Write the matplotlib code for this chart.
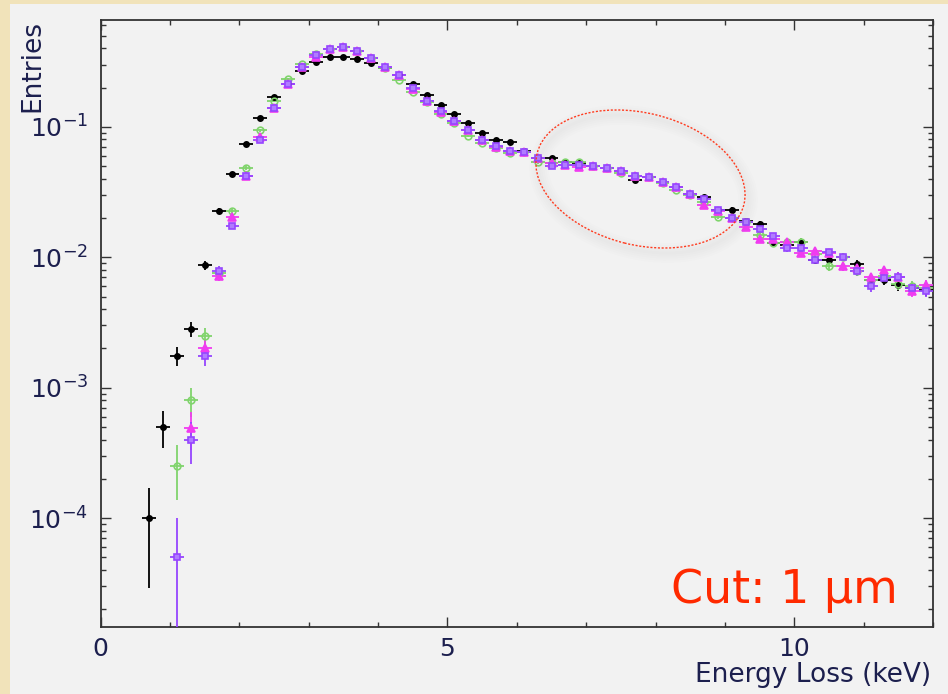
import numpy as np
import matplotlib.pyplot as plt
from matplotlib.patches import Ellipse, Rectangle
from matplotlib.ticker import LogLocator, MultipleLocator, NullFormatter

# centri dei bin (keV), bin da 0.2 keV
centri = [0.7, 0.9, 1.1, 1.3, 1.5, 1.7, 1.9, 2.1, 2.3, 2.5, 2.7, 2.9, 3.1, 3.3, 3.5,
          3.7, 3.9, 4.1, 4.3, 4.5, 4.7, 4.9, 5.1, 5.3, 5.5, 5.7, 5.9, 6.1, 6.3, 6.5,
          6.7, 6.9, 7.1, 7.3, 7.5, 7.7, 7.9, 8.1, 8.3, 8.5, 8.7, 8.9, 9.1, 9.3, 9.5,
          9.7, 9.9, 10.1, 10.3, 10.5, 10.7, 10.9, 11.1, 11.3, 11.5, 11.7, 11.9]

nan = np.nan

nero = [1.0e-4, 5.0e-4, 1.75e-3, 2.8e-3, 8.7e-3, 0.0228, 0.0438, 0.0741, 0.117, 0.168,
        0.214, 0.266, 0.317, 0.342, 0.342, 0.334, 0.308, 0.285, 0.25, 0.214, 0.176,
        0.148, 0.126, 0.107, 0.0905, 0.0795, 0.0759, 0.0655, 0.0575, 0.0575, 0.054,
        0.0526, 0.0497, 0.0482, 0.046, 0.039, 0.0411, 0.0375, 0.0343, 0.0304, 0.0288,
        0.0231, 0.0231, 0.019, 0.018, 0.0129, 0.0125, 0.0132, 0.0095, 0.0096, 0.0101,
        0.0089, 0.0067, 0.0067, 0.0061, 0.0058, 0.0056]

verde = [nan, nan, 2.5e-4, 8.0e-4, 2.5e-3, 7.6e-3, 0.0228, 0.0485, 0.094, 0.158,
         0.233, 0.305, 0.365, 0.394, 0.409, 0.385, 0.336, 0.283, 0.23, 0.184, 0.155,
         0.125, 0.107, 0.085, 0.075, 0.0686, 0.0635, 0.064, 0.054, 0.0526, 0.054,
         0.054, 0.0497, 0.0482, 0.0442, 0.042, 0.041, 0.037, 0.0329, 0.030, 0.0267,
         0.0205, 0.0199, 0.0185, 0.0148, 0.0128, 0.0132, 0.0132, 0.0105, 0.0085, 0.0101,
         0.0078, 0.0067, 0.0072, 0.0062, 0.006, 0.0058]

magenta = [nan, nan, nan, 4.9e-4, 2.0e-3, 7.2e-3, 0.0205, 0.042, 0.0843, 0.139,
           0.214, 0.29, 0.345, 0.394, 0.409, 0.385, 0.336, 0.29, 0.25, 0.194, 0.159,
           0.131, 0.11, 0.094, 0.079, 0.0705, 0.0658, 0.0646, 0.0575, 0.0526, 0.0513,
           0.049, 0.0497, 0.0482, 0.0459, 0.042, 0.0411, 0.038, 0.0343, 0.0304, 0.0252,
           0.0228, 0.0199, 0.0172, 0.0137, 0.0137, 0.013, 0.0107, 0.0112, 0.0107, 0.0085,
           0.0082, 0.0070, 0.0080, 0.0071, 0.0055, 0.0061]

viola = [nan, nan, 5.0e-5, 4.0e-4, 1.75e-3, 7.9e-3, 0.0174, 0.042, 0.0795, 0.139,
         0.214, 0.29, 0.355, 0.394, 0.409, 0.385, 0.336, 0.29, 0.25, 0.2, 0.159,
         0.132, 0.11, 0.095, 0.0795, 0.0715, 0.0658, 0.0646, 0.0575, 0.0502, 0.0513,
         0.0513, 0.0497, 0.0482, 0.0459, 0.042, 0.0411, 0.038, 0.0343, 0.0304, 0.0279,
         0.0231, 0.0199, 0.0185, 0.0164, 0.0146, 0.0117, 0.0117, 0.0095, 0.0109, 0.0101,
         0.0078, 0.0060, 0.0069, 0.0071, 0.0058, 0.0055]

n_entries = 20000  # eventi per istogramma normalizzato
meta_bin = 0.1

blu = '#1c1f4e'
plt.rcParams['font.family'] = ['DejaVu Sans']

fig = plt.figure(figsize=(9.48, 6.94), dpi=100)
fig.patch.set_facecolor('#f1e3ba')
# riquadro grigio del canvas, sotto agli assi
fig.patches.append(Rectangle((10 / 948, 0), 938 / 948, 690 / 694, transform=fig.transFigure,
                             facecolor='#f2f2f2', edgecolor='none', zorder=-5))

ax = fig.add_axes([100.7 / 948, 67 / 694, 832.3 / 948, 607 / 694])
ax.set_facecolor('#f2f2f2')


def disegna(valori, colore, marker, ms, riempimento):
    x = np.array(centri)
    y = np.array(valori)
    ok = ~np.isnan(y)
    x = x[ok]
    y = y[ok]
    err = np.sqrt(y / n_entries)
    basso = np.minimum(err, y * 0.9999)
    ax.errorbar(x, y, xerr=meta_bin, yerr=[basso, err], fmt='none',
                ecolor=colore, elinewidth=1.3, capsize=0, zorder=3)
    ax.plot(x, y, linestyle='none', marker=marker, markersize=ms,
            color=colore, markerfacecolor=riempimento,
            markeredgewidth=1.2, zorder=4)


disegna(nero, 'black', 'o', 3.8, 'black')
disegna(verde, '#80d46c', 'o', 4.8, 'none')
disegna(magenta, '#f03cf0', '^', 5.5, '#f03cf0')
disegna(viola, '#9646ff', 's', 4.6, '#b07cff')

ax.set_xlim(0, 12)
ax.set_yscale('log')
ax.set_ylim(1.46e-5, 0.66)

ax.xaxis.set_major_locator(MultipleLocator(5))
ax.xaxis.set_minor_locator(MultipleLocator(1))
ax.yaxis.set_major_locator(LogLocator(base=10))
ax.yaxis.set_minor_locator(LogLocator(base=10, subs=np.arange(2, 10)))
ax.yaxis.set_minor_formatter(NullFormatter())

ax.tick_params(which='both', direction='in', top=True, right=True, colors='#333333',
               labelcolor=blu, labelsize=18, width=1)
ax.tick_params(which='major', length=7)
ax.tick_params(which='minor', length=3.5)
ax.tick_params(axis='x', pad=7)
ax.tick_params(axis='y', pad=9)
for s in ax.spines.values():
    s.set_color('#333333')
    s.set_linewidth(1.3)

fig.text(32 / 948, 1 - 20 / 694, 'Entries', rotation=90, ha='center', va='top',
         fontsize=19, color=blu)
fig.text(931 / 948, 1 - 682 / 694, 'Energy Loss (keV)', ha='right', va='baseline',
         fontsize=19, color=blu)

ax.text(0.958, 0.04, 'Cut: 1 \u03bcm', transform=ax.transAxes, ha='right', va='baseline',
        fontsize=33, color='#ff2a00')

# ellisse tratteggiata con leggera ombra
cx, cy = 640.5 / 100, (694 - 179) / 100
larg, alt, ang = 2.13, 1.32, -14
for k in range(5):
    fig.patches.append(Ellipse((cx + 0.03, cy - 0.05), larg, alt, angle=ang,
                               transform=fig.dpi_scale_trans, fill=False,
                               edgecolor='#909090', linewidth=2 + 3 * k, alpha=0.015,
                               zorder=2))
fig.patches.append(Ellipse((cx, cy), larg, alt, angle=ang, transform=fig.dpi_scale_trans,
                           fill=False, edgecolor='#ff3b1f', linewidth=1.0,
                           linestyle=(0, (1.5, 1.2)), zorder=3))

fig.savefig('out.png', dpi=100, facecolor=fig.get_facecolor())
